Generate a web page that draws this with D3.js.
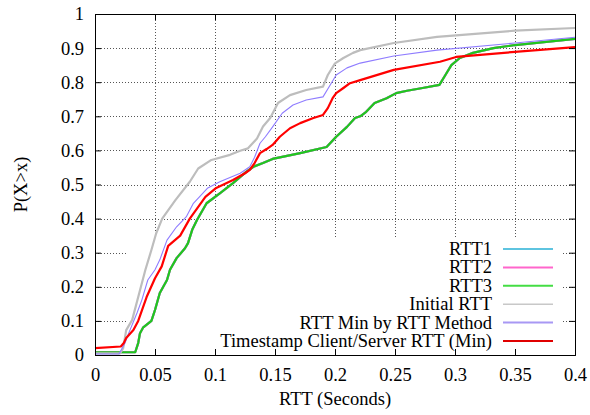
<!DOCTYPE html>
<html>
<head>
<meta charset="utf-8">
<script src="https://cdn.jsdelivr.net/npm/d3@7"></script>
<style>
  body { margin: 0; background: #fff; }
</style>
</head>
<body>
<div id="chart"></div>
<script>
"use strict"

var fontFamily = '"Liberation Serif"';

// tick values
var xTicks = [0, 0.05, 0.1, 0.15, 0.2, 0.25, 0.3, 0.35, 0.4];
var yTicks = [0, 0.1, 0.2, 0.3, 0.4, 0.5, 0.6, 0.7, 0.8, 0.9, 1];

// series, [rtt, P(X>x)]
var rtt3 = [[0,0.008],[0.0335,0.008],[0.036,0.035],[0.0375,0.064],[0.04,0.08],[0.047,0.1],[0.05,0.132],
  [0.054,0.182],[0.06,0.22],[0.0625,0.25],[0.068,0.284],[0.075,0.313],[0.0775,0.328],[0.081,0.367],
  [0.085,0.396],[0.093,0.445],[0.104,0.474],[0.115,0.504],[0.126,0.537],[0.132,0.552],[0.14,0.563],
  [0.148,0.575],[0.171,0.592],[0.193,0.61],[0.201,0.64],[0.21,0.669],[0.2167,0.695],[0.221,0.7],
  [0.226,0.713],[0.233,0.739],[0.243,0.753],[0.251,0.768],[0.26,0.775],[0.273,0.783],[0.287,0.792],
  [0.292,0.821],[0.297,0.85],[0.304,0.871],[0.315,0.886],[0.332,0.9],[0.35,0.909],[0.4,0.927]];
// RTT1 / RTT2 lie hidden under RTT3 in the picture
var rtt1 = rtt3;
var rtt2 = rtt3;
var initialRtt = [[0,0.005],[0.021,0.005],[0.0235,0.02],[0.026,0.073],[0.031,0.103],[0.0375,0.19],
  [0.042,0.25],[0.047,0.308],[0.051,0.357],[0.056,0.4],[0.067,0.454],[0.079,0.508],[0.086,0.547],
  [0.097,0.572],[0.1125,0.587],[0.121,0.599],[0.1275,0.606],[0.135,0.635],[0.14,0.67],[0.146,0.695],
  [0.1525,0.739],[0.1625,0.762],[0.176,0.777],[0.19,0.787],[0.194,0.821],[0.2,0.855],[0.207,0.871],
  [0.215,0.886],[0.221,0.894],[0.249,0.915],[0.285,0.933],[0.35,0.951],[0.4,0.959]];
var rttMin = [[0,0.003],[0.02,0.003],[0.025,0.035],[0.0275,0.059],[0.035,0.123],[0.039,0.161],
  [0.044,0.22],[0.05,0.25],[0.054,0.279],[0.06,0.337],[0.068,0.376],[0.076,0.405],[0.082,0.445],
  [0.094,0.49],[0.104,0.508],[0.121,0.533],[0.129,0.552],[0.133,0.58],[0.1375,0.621],[0.142,0.64],
  [0.148,0.669],[0.156,0.709],[0.165,0.733],[0.176,0.748],[0.19,0.757],[0.196,0.792],[0.201,0.821],
  [0.21,0.842],[0.221,0.856],[0.249,0.877],[0.285,0.894],[0.35,0.915],[0.4,0.932]];
var timestampMin = [[0,0.02],[0.0215,0.025],[0.024,0.035],[0.026,0.05],[0.032,0.073],[0.036,0.1],
  [0.043,0.17],[0.05,0.225],[0.0556,0.26],[0.061,0.32],[0.071,0.35],[0.079,0.4],[0.092,0.464],
  [0.101,0.49],[0.115,0.513],[0.125,0.533],[0.129,0.543],[0.133,0.563],[0.1375,0.592],[0.143,0.604],
  [0.148,0.616],[0.154,0.64],[0.1625,0.665],[0.171,0.68],[0.182,0.695],[0.19,0.704],[0.194,0.724],
  [0.198,0.753],[0.201,0.768],[0.207,0.783],[0.2125,0.797],[0.221,0.806],[0.249,0.836],[0.2875,0.86],
  [0.301,0.874],[0.35,0.889],[0.4,0.903]];

var seriesNames = ['RTT1', 'RTT2', 'RTT3', 'Initial RTT', 'RTT Min by RTT Method', 'Timestamp Client/Server RTT (Min)'];
var seriesData = [rtt1, rtt2, rtt3, initialRtt, rttMin, timestampMin];
var lineColors = ['#56b8dc', '#ff5acb', '#1ec81e', '#bdbdbd', '#8f7cff', '#ff0000'];
var keyColors = ['#5ec4e0', '#ff66cc', '#44dd44', '#c8c8c8', '#a898f4', '#e00000'];
var lineWidths = [2.2, 2.2, 2.2, 2.2, 1.1, 2.2];

var margin = { left: 95, top: 14, right: 15, bottom: 60 },
  width = 590,
  height = 415,
  plotW = width - margin.left - margin.right,  // 480
  plotH = height - margin.top - margin.bottom; // 341

var svg = d3.select('#chart').append('svg')
  .attr('width', width)
  .attr('height', height);

var g = svg.append('g')
  .attr('transform', 'translate(' + margin.left + ',' + margin.top + ')');

var xScale = d3.scaleLinear().domain([0, 0.4]).range([0, plotW]);
var yScale = d3.scaleLinear().domain([0, 1]).range([plotH, 0]);

// dotted grid
g.append('g').selectAll('line')
  .data(xTicks.slice(1, -1))
  .enter().append('line')
  .attr('x1', d => Math.round(xScale(d)) + 0.5)
  .attr('x2', d => Math.round(xScale(d)) + 0.5)
  .attr('y1', 0).attr('y2', plotH)
  .attr('stroke', '#555').attr('stroke-dasharray', '1,2');

g.append('g').selectAll('line')
  .data(yTicks.slice(1, -1))
  .enter().append('line')
  .attr('y1', d => Math.round(yScale(d)) + 0.5)
  .attr('y2', d => Math.round(yScale(d)) + 0.5)
  .attr('x1', 0).attr('x2', plotW)
  .attr('stroke', '#555').attr('stroke-dasharray', '1,2');

// opaque key box hides the grid behind the legend
g.append('rect')
  .attr('x', 31).attr('y', 225)
  .attr('width', 437).attr('height', plotH - 225)
  .attr('fill', '#fff');

// curves
var line = d3.line()
  .x(d => xScale(d[0]))
  .y(d => yScale(d[1]));

g.append('g').selectAll('path')
  .data(seriesData)
  .enter().append('path')
  .attr('d', d => line(d))
  .attr('fill', 'none')
  .attr('stroke', (d, i) => lineColors[i])
  .attr('stroke-width', (d, i) => lineWidths[i])
  .attr('stroke-linejoin', 'round');

// axes, ticks inward, mirrored
var xAxis = d3.axisBottom(xScale).tickValues(xTicks).tickSize(-6).tickPadding(13).tickFormat(d3.format('~g'));
var yAxis = d3.axisLeft(yScale).tickValues(yTicks).tickSize(-6).tickPadding(11).tickFormat(d3.format('~g'));

g.append('g').attr('transform', 'translate(0,' + plotH + ')').call(xAxis);
g.append('g').call(yAxis);
g.append('g').call(d3.axisTop(xScale).tickValues(xTicks).tickSize(-6).tickFormat(''));
g.append('g').attr('transform', 'translate(' + plotW + ',0)')
  .call(d3.axisRight(yScale).tickValues(yTicks).tickSize(-6).tickFormat(''));

g.selectAll('.domain').attr('stroke', '#000');
g.selectAll('.tick line').attr('stroke', '#000');
g.selectAll('.tick text').attr('fill', '#000');

// legend
var legend = g.append('g').attr('transform', 'translate(0,235)');
seriesNames.forEach(function (name, i) {
  var y = i * 18.4;
  legend.append('text')
    .attr('x', 397).attr('y', y + 6)
    .attr('text-anchor', 'end')
    .text(name);
  legend.append('line')
    .attr('x1', 408).attr('x2', 458)
    .attr('y1', y).attr('y2', y)
    .attr('stroke', keyColors[i])
    .attr('stroke-width', i === 3 ? 1.5 : 2);
});

// axis titles
svg.append('text')
  .attr('transform', 'translate(27,' + (margin.top + plotH / 2) + ') rotate(-90)')
  .attr('text-anchor', 'middle')
  .text('P(X>x)');

svg.append('text')
  .attr('x', margin.left + plotW / 2)
  .attr('y', 405)
  .attr('text-anchor', 'middle')
  .text('RTT (Seconds)');

// serif font on every text, set inline so the axis defaults do not win
svg.selectAll('text')
  .style('font-family', fontFamily)
  .style('font-size', '18.5px');
</script>
</body>
</html>
